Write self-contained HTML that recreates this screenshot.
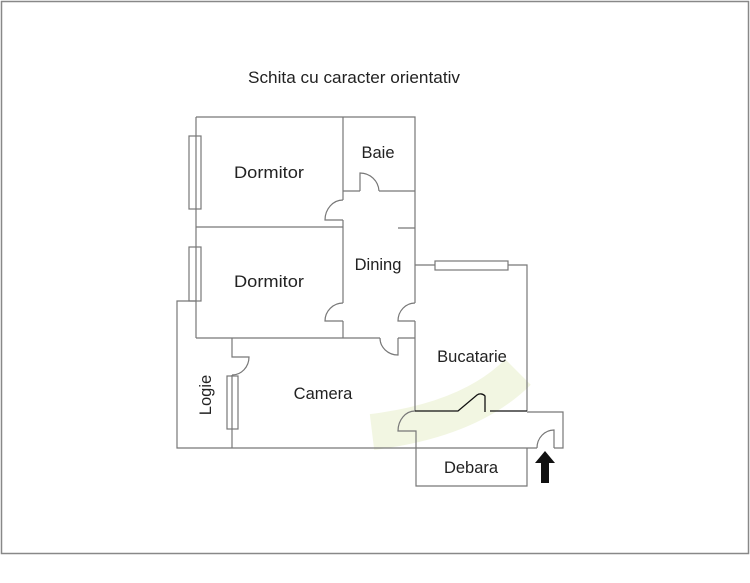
<!DOCTYPE html>
<html><head><style>
html,body{margin:0;padding:0;background:#fff;}
svg{display:block;}
text{font-family:"Liberation Sans",sans-serif;fill:#222;}
</style></head><body>
<svg width="750" height="583" viewBox="0 0 750 583" xmlns="http://www.w3.org/2000/svg">
<rect x="1.5" y="1.5" width="747" height="552" fill="#fff" stroke="#888" stroke-width="1.5"/>
<path d="M372,432 Q470,420 518,372" fill="none" stroke="#f1f5df" stroke-width="36" opacity="0.9"/>
<text x="354" y="83" font-size="16.5" text-anchor="middle" textLength="212" lengthAdjust="spacingAndGlyphs">Schita cu caracter orientativ</text>
<g fill="none" stroke="#777" stroke-width="1.2">
<path d="M196,117 H415 V303 M415,321 V411"/>
<path d="M398,228 H415"/>
<path d="M196,117 V338"/>
<path d="M343,117 V200 M343,220 V303 M343,321 V338"/>
<path d="M343,191 H360 M379,191 H415"/>
<path d="M360,191 V173 A19,19 0 0 1 379,191"/>
<path d="M343,220 H325 A18,20 0 0 1 343,200"/>
<path d="M196,227 H343"/>
<path d="M343,321 H325 A18,18 0 0 1 343,303"/>
<path d="M415,321 H398 A17,18 0 0 1 415,303"/>
<path d="M196,338 H380 M398,338 H415"/>
<path d="M398,338 V355 A18,17 0 0 1 380,338"/>
<rect x="189" y="136" width="12" height="73"/>
<rect x="189" y="247" width="12" height="54"/>
<rect x="227" y="376" width="11" height="53"/>
<rect x="435" y="261" width="73" height="9"/>
<path d="M415,265 H435 M508,265 H527 V411"/>
<path d="M196,301 H177 V448 H537 M554,448 H563 V412 H527"/>
<path d="M232,338 V357 H249 A17,18 0 0 1 232,375 M232,375 V448"/>
<path d="M415,411 A17,20 0 0 0 398,431 H416 V486 H527 V448"/>
<path d="M554,448 V430 A17,18 0 0 0 537,448"/>
</g>
<g fill="none" stroke="#111" stroke-width="1.3">
<path d="M415,411 H458 L477,395 A6,6 0 0 1 485,396 V412 M490,411 H527"/>
</g>
<path d="M545,451 L555,463 H549 V483 H541 V463 H535 Z" fill="#111"/>
<g font-size="16.5">
<text x="269" y="178" text-anchor="middle" textLength="70" lengthAdjust="spacingAndGlyphs">Dormitor</text>
<text x="378" y="158" text-anchor="middle">Baie</text>
<text x="378" y="270" text-anchor="middle">Dining</text>
<text x="269" y="287" text-anchor="middle" textLength="70" lengthAdjust="spacingAndGlyphs">Dormitor</text>
<text x="472" y="362" text-anchor="middle">Bucatarie</text>
<text x="323" y="399" text-anchor="middle">Camera</text>
<text x="471" y="473" text-anchor="middle">Debara</text>
<text transform="translate(211,395) rotate(-90)" text-anchor="middle">Logie</text>
</g>
</svg>
</body></html>
